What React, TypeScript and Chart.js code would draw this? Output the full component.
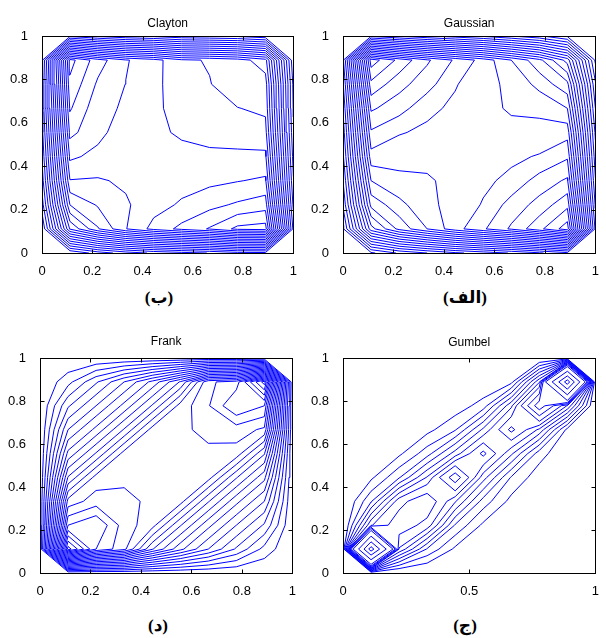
import React, { useEffect, useRef } from "react";
import { Chart, registerables } from "chart.js";

Chart.register(...registerables);

// grid node positions (10 x 10 grid on [0,1])
const GRID_POS = [0, 0.1111, 0.2222, 0.3333, 0.4444, 0.5556, 0.6667, 0.7778, 0.8889, 1];

const TICKS_FIFTHS = [0, 0.2, 0.4, 0.6, 0.8, 1];
const TICKS_HALVES = [0, 0.5, 1];
const Y_TICKS = [0, 0.2, 0.4, 0.6, 0.8, 1];

// rows: y = 0 (first) ... y = 1 (last); columns x = 0 ... 1
const CLAYTON_Z = [
  [19.95, 19.95, 18.55, 17.53, 16.83, 16.36, 15.96, 15.37, 15.28, 15.28],
  [19.95, 9.9, 7.1, 5.05, 3.66, 2.72, 1.91, 0.74, 0.55, 15.28],
  [18.5, 6.99, 5.89, 5.13, 4.4, 3.86, 3.3, 2.85, 2.45, 16.23],
  [17.53, 5.05, 5.1, 4.85, 4.5, 4.4, 4.25, 4.05, 3.83, 16.92],
  [16.9, 3.8, 4.3, 4.6, 4.5, 4.45, 4.7, 4.75, 4.78, 17.39],
  [16.37, 2.73, 3.69, 4.6, 4.6, 5.26, 5.5, 5.55, 5.63, 17.82],
  [15.94, 1.88, 3.66, 4.15, 4.5, 5.93, 5.9, 5.97, 6.2, 18.1],
  [15.61, 1.22, 3.17, 4.02, 4.6, 5.85, 5.95, 6.66, 6.51, 18.26],
  [15.32, 0.64, 2.53, 3.91, 4.6, 5.8, 6.09, 6.5, 7.6, 18.8],
  [15.32, 15.32, 16.27, 16.96, 17.3, 17.9, 18.05, 18.25, 18.8, 18.8],
];
const CLAYTON_LEVELS = [1, 2, 3, 4, 5, 6, 7, 8, 9, 10, 11, 12, 13, 14, 15, 16, 17, 18, 19];

const GAUSSIAN_Z = [
  [21.2, 21.2, 19.85, 19.0, 18.2, 17.57, 16.92, 16.14, 15.23, 15.23],
  [21.2, 12.4, 9.7, 8.0, 6.39, 5.14, 3.84, 2.27, 0.45, 15.23],
  [19.85, 9.7, 8.35, 7.14, 6.8, 5.9, 4.59, 3.64, 2.27, 16.14],
  [19.0, 8.0, 7.14, 7.15, 6.65, 6.25, 5.7, 4.59, 3.84, 16.92],
  [18.2, 6.39, 6.8, 6.65, 6.6, 6.45, 6.25, 5.9, 5.14, 17.57],
  [17.57, 5.14, 5.9, 6.25, 6.45, 6.6, 6.65, 6.8, 6.39, 18.2],
  [16.92, 3.84, 4.59, 5.7, 6.25, 6.65, 7.15, 7.14, 8.0, 19.0],
  [16.14, 2.27, 3.64, 4.59, 5.9, 6.8, 7.14, 8.35, 9.7, 19.85],
  [15.23, 0.45, 2.27, 3.84, 5.14, 6.39, 8.0, 9.7, 12.4, 21.2],
  [15.23, 15.23, 16.14, 16.92, 17.57, 18.2, 19.0, 19.85, 21.2, 21.2],
];
const GAUSSIAN_LEVELS = [1, 2, 3, 4, 5, 6, 7, 8, 9, 10, 11, 12, 13, 14, 15, 16, 17, 18, 19, 20, 21];

const FRANK_Z = [
  [0, 0, 0, 0, 0, 0, 0, 0, 0, 0],
  [0, 21.5, 17, 15.3, 11.1, 8.3, 6.0, 3.85, 1.65, 0],
  [0, 17, 18, 15.5, 14.4, 11.1, 8.3, 6.0, 3.85, 0],
  [0, 14.4, 15.5, 15.4, 14.7, 14.4, 11.1, 8.3, 6.0, 0],
  [0, 11.1, 14.4, 14.7, 14.6, 14.5, 14.4, 11.1, 8.3, 0],
  [0, 8.3, 11.1, 14.4, 14.5, 14.6, 14.7, 14.6, 11.1, 0],
  [0, 6.0, 8.3, 11.1, 14.4, 14.7, 15.4, 15.5, 14.8, 0],
  [0, 3.85, 6.0, 8.3, 11.1, 14.4, 15.9, 18, 17, 0],
  [0, 1.65, 3.85, 6.0, 8.3, 11.1, 15.8, 16.5, 21.5, 0],
  [0, 0, 0, 0, 0, 0, 0, 0, 0, 0],
];
const FRANK_LEVELS = [1, 2, 3, 4, 5, 6, 7, 8, 9, 10, 11, 12, 13, 14, 15, 16, 17, 18, 19, 20, 21];

const GUMBEL_Z = [
  [0, 0, 0, 0, 0, 0, 0, 0, 0, 0],
  [0, 36, 6.5, 2.9, 1.0, 0.45, 0.2, 0.08, 0.02, 0],
  [0, 6.5, 8.3, 7.2, 2.9, 1.0, 0.4, 0.15, 0.05, 0],
  [0, 2.9, 7.2, 8.5, 5.8, 2.6, 0.9, 0.3, 0.08, 0],
  [0, 1.0, 2.9, 5.8, 9.9, 5.2, 2.0, 0.65, 0.15, 0],
  [0, 0.45, 1.0, 2.6, 5.2, 7.9, 5.0, 1.6, 0.35, 0],
  [0, 0.2, 0.4, 0.9, 2.0, 5.0, 7.9, 5.5, 0.9, 0],
  [0, 0.08, 0.15, 0.3, 0.65, 1.6, 5.5, 11.5, 6.5, 0],
  [0, 0.02, 0.05, 0.08, 0.15, 0.35, 0.9, 6.5, 36, 0],
  [0, 0, 0, 0, 0, 0, 0, 0, 0, 0],
];
const GUMBEL_LEVELS = [1.2, 2.1, 3.0, 3.9, 4.8, 5.7, 6.6, 7.6, 9, 10.5, 13, 20, 27, 33];

const CAPTIONS = [
  { text: "(ب)", x: 159, y: 297 },
  { text: "(الف)", x: 465, y: 297 },
  { text: "(د)", x: 158, y: 625 },
  { text: "(ج)", x: 465, y: 625 },
];

type Pt = { x: number | null; y: number | null };

function contourPoints(Z: number[][], levels: number[]): Pt[] {
  const pts: Pt[] = [];
  const n = Z.length;
  for (let j = 0; j < n - 1; j++) {
    for (let i = 0; i < n - 1; i++) {
      const a = Z[j][i], b = Z[j][i + 1], c = Z[j + 1][i + 1], d = Z[j + 1][i];
      const x0 = GRID_POS[i], x1 = GRID_POS[i + 1], y0 = GRID_POS[j], y1 = GRID_POS[j + 1];
      const center = (a + b + c + d) / 4;
      for (const L of levels) {
        const code = (a > L ? 1 : 0) | (b > L ? 2 : 0) | (c > L ? 4 : 0) | (d > L ? 8 : 0);
        if (code === 0 || code === 15) continue;
        const pB = () => ({ x: x0 + ((L - a) / (b - a)) * (x1 - x0), y: y0 });
        const pR = () => ({ x: x1, y: y0 + ((L - b) / (c - b)) * (y1 - y0) });
        const pT = () => ({ x: x0 + ((L - d) / (c - d)) * (x1 - x0), y: y1 });
        const pL = () => ({ x: x0, y: y0 + ((L - a) / (d - a)) * (y1 - y0) });
        const add = (p: Pt, q: Pt) => {
          pts.push(p, q, { x: null, y: null });
        };
        switch (code) {
          case 1: case 14: add(pL(), pB()); break;
          case 2: case 13: add(pB(), pR()); break;
          case 3: case 12: add(pL(), pR()); break;
          case 4: case 11: add(pR(), pT()); break;
          case 6: case 9: add(pB(), pT()); break;
          case 7: case 8: add(pL(), pT()); break;
          case 5:
            if (center > L) { add(pB(), pR()); add(pL(), pT()); }
            else { add(pL(), pB()); add(pR(), pT()); }
            break;
          case 10:
            if (center > L) { add(pL(), pB()); add(pR(), pT()); }
            else { add(pB(), pR()); add(pL(), pT()); }
            break;
        }
      }
    }
  }
  return pts;
}

type PanelCfg = {
  title: string; Z: number[][]; levels: number[]; xTicks: number[];
  left: number; top: number; w: number; h: number; yw: number; pr: number; pt: number; tg: number;
};

const PANELS: PanelCfg[] = [
  { title: "Clayton", Z: CLAYTON_Z, levels: CLAYTON_LEVELS, xTicks: TICKS_FIFTHS, left: 2, top: 10, w: 298, h: 267, yw: 40, pr: 4, pt: 26, tg: 6 },
  { title: "Gaussian", Z: GAUSSIAN_Z, levels: GAUSSIAN_LEVELS, xTicks: TICKS_FIFTHS, left: 302, top: 10, w: 300, h: 267, yw: 41, pr: 4, pt: 26, tg: 6 },
  { title: "Frank", Z: FRANK_Z, levels: FRANK_LEVELS, xTicks: TICKS_FIFTHS, left: 0, top: 332, w: 299, h: 265, yw: 40, pr: 4, pt: 26, tg: 10 },
  { title: "Gumbel", Z: GUMBEL_Z, levels: GUMBEL_LEVELS, xTicks: TICKS_HALVES, left: 302, top: 332, w: 300, h: 265, yw: 41, pr: 4, pt: 26, tg: 9 },
];

const FONT = "'Liberation Sans', Arial, Helvetica, sans-serif";

function Panel({ cfg }: { cfg: PanelCfg }) {
  const ref = useRef<HTMLCanvasElement | null>(null);
  useEffect(() => {
    if (!ref.current) return;
    const frame = {
      id: "frame",
      afterDraw(chart: any) {
        const { ctx, chartArea } = chart;
        const xs = chart.scales.x, ys = chart.scales.y;
        const l = Math.round(chartArea.left) + 0.5, r = Math.round(chartArea.right) + 0.5;
        const t = Math.round(chartArea.top) + 0.5, b = Math.round(chartArea.bottom) + 0.5;
        ctx.save();
        ctx.strokeStyle = "#000";
        ctx.lineWidth = 1;
        ctx.strokeRect(l, t, r - l, b - t);
        ctx.beginPath();
        const tl = 4;
        for (const v of cfg.xTicks) {
          const px = Math.round(xs.getPixelForValue(v)) + 0.5;
          ctx.moveTo(px, b); ctx.lineTo(px, b - tl);
          ctx.moveTo(px, t); ctx.lineTo(px, t + tl);
        }
        for (const v of Y_TICKS) {
          const py = Math.round(ys.getPixelForValue(v)) + 0.5;
          ctx.moveTo(l, py); ctx.lineTo(l + tl, py);
          ctx.moveTo(r, py); ctx.lineTo(r - tl, py);
        }
        ctx.stroke();
        ctx.fillStyle = "#000";
        ctx.font = `12px ${FONT}`;
        ctx.textAlign = "center";
        ctx.textBaseline = "bottom";
        ctx.fillText(cfg.title, (chartArea.left + chartArea.right) / 2, chartArea.top - cfg.tg);
        ctx.restore();
      },
    };
    const chart = new Chart(ref.current, {
      type: "scatter",
      data: {
        datasets: [
          {
            data: contourPoints(cfg.Z, cfg.levels) as any,
            showLine: true,
            borderColor: "#0000ff",
            borderWidth: 1,
            pointRadius: 0,
            pointHoverRadius: 0,
            spanGaps: false,
            fill: false,
            tension: 0,
          } as any,
        ],
      },
      options: {
        animation: false,
        responsive: false,
        maintainAspectRatio: false,
        events: [],
        layout: { padding: { top: cfg.pt, right: cfg.pr, left: 0, bottom: 0 } },
        plugins: { legend: { display: false }, tooltip: { enabled: false }, title: { display: false } },
        scales: {
          x: {
            type: "linear", min: 0, max: 1,
            grid: { display: false }, border: { display: false },
            ticks: { autoSkip: false, maxRotation: 0, padding: 3, color: "#000", font: { family: FONT, size: 13 }, callback: (v: any) => String(v) },
            afterBuildTicks: (s: any) => { s.ticks = cfg.xTicks.map((v) => ({ value: v })); },
            afterFit: (s: any) => { s.height = 24; },
          },
          y: {
            type: "linear", min: 0, max: 1,
            grid: { display: false }, border: { display: false },
            ticks: { autoSkip: false, padding: 6, color: "#000", font: { family: FONT, size: 13 }, callback: (v: any) => String(v) },
            afterBuildTicks: (s: any) => { s.ticks = Y_TICKS.map((v) => ({ value: v })); },
            afterFit: (s: any) => { s.width = cfg.yw; },
          },
        },
      } as any,
      plugins: [frame],
    });
    return () => chart.destroy();
  }, [cfg]);
  return (
    <canvas
      ref={ref}
      width={cfg.w}
      height={cfg.h}
      style={{ position: "absolute", left: cfg.left, top: cfg.top, width: cfg.w, height: cfg.h }}
    />
  );
}

export default function App() {
  return (
    <div style={{ position: "absolute", left: 0, top: 0, width: 606, height: 638, background: "#fff", overflow: "hidden" }}>
      {PANELS.map((p) => (
        <Panel key={p.title} cfg={p} />
      ))}
      {CAPTIONS.map((c) => (
        <div
          key={c.text}
          style={{
            position: "absolute", left: c.x, top: c.y, transform: "translate(-50%, -50%)",
            fontFamily: "'Liberation Serif', 'DejaVu Sans', serif", fontWeight: "bold", fontSize: 17,
            color: "#000", whiteSpace: "nowrap", lineHeight: 1,
          }}
        >
          {c.text}
        </div>
      ))}
    </div>
  );
}
